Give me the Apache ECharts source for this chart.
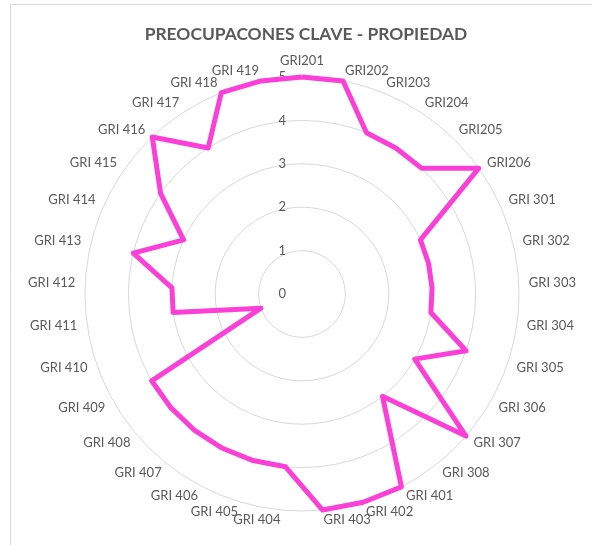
<!DOCTYPE html>
<html>
<head>
<meta charset="utf-8">
<script src="https://cdn.jsdelivr.net/npm/echarts@6/dist/echarts.min.js"></script>
<style>
  html, body { margin: 0; padding: 0; background: #fff; }
  #chart { width: 592px; height: 545px; }
</style>
</head>
<body>
<div id="chart"></div>
<script>
const categories = [
  'GRI201', 'GRI202', 'GRI203', 'GRI204', 'GRI205', 'GRI206',
  'GRI 301', 'GRI 302', 'GRI 303', 'GRI 304', 'GRI 305', 'GRI 306', 'GRI 307', 'GRI 308',
  'GRI 401', 'GRI 402', 'GRI 403', 'GRI 404', 'GRI 405', 'GRI 406', 'GRI 407', 'GRI 408',
  'GRI 409', 'GRI 410', 'GRI 411', 'GRI 412', 'GRI 413', 'GRI 414', 'GRI 415', 'GRI 416',
  'GRI 417', 'GRI 418', 'GRI 419'
];
const values = [
  5, 5, 4, 4, 4, 5,
  3, 3, 3, 3, 4, 3, 5, 3,
  5, 5, 5, 4, 4, 4, 4, 4,
  4, 1, 3, 3, 4, 3, 4, 5,
  4, 5, 5
];
const maxValue = 5;
const chartTitle = 'PREOCUPACONES CLAVE - PROPIEDAD';

const textColor = '#595959';
const gridColor = '#d9d9d9';
const lineColor = '#fb3fd7';
const font = 'Lato';

// ECharts lays radar axes out counter-clockwise, Excel goes clockwise,
// so keep the first axis on top and walk the rest backwards
const order = [0];
for (let i = categories.length - 1; i > 0; i--) order.push(i);

const indicators = order.map((idx, k) => {
  const ind = { name: categories[idx], min: 0, max: maxValue };
  // only the top axis carries the 0..5 scale labels
  if (k === 0) {
    ind.axisLabel = { show: true, color: textColor, fontSize: 13, fontFamily: font, margin: 16 };
  }
  return ind;
});

const chart = echarts.init(document.getElementById('chart'));

chart.setOption({
  animation: false,
  backgroundColor: '#fff',
  title: {
    text: chartTitle,
    left: 301,
    textAlign: 'center',
    top: 21,
    textStyle: { color: textColor, fontSize: 17.4, fontWeight: 'bold', fontFamily: font }
  },
  graphic: [{
    type: 'rect',
    shape: { x: 10.5, y: 4.5, width: 700, height: 700 },
    style: { fill: 'none', stroke: gridColor, lineWidth: 1 },
    silent: true
  }],
  radar: {
    center: [302, 294],
    radius: 217,
    shape: 'circle',
    splitNumber: 5,
    indicator: indicators,
    nameGap: 10,
    axisName: { color: textColor, fontSize: 13, fontFamily: font },
    axisLine: { show: false },
    axisTick: { show: false },
    axisLabel: { show: false },
    splitLine: { lineStyle: { color: gridColor, width: 1 } },
    splitArea: { show: false }
  },
  series: [{
    type: 'radar',
    symbol: 'none',
    lineStyle: { color: lineColor, width: 5 },
    data: [{ value: order.map((idx) => values[idx]) }]
  }]
});
</script>
</body>
</html>
